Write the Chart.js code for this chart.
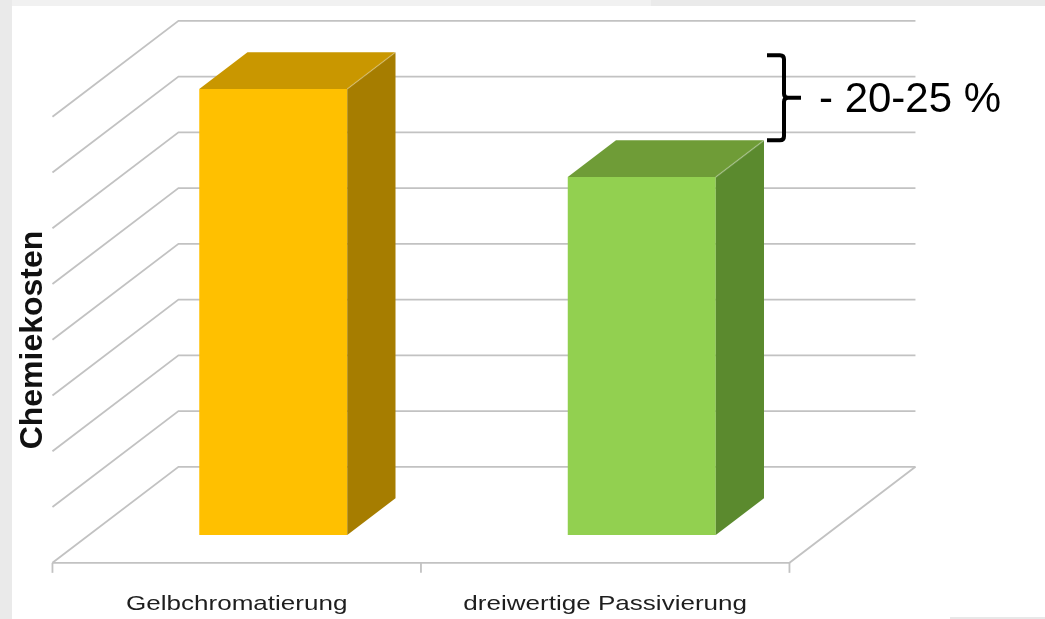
<!DOCTYPE html>
<html lang="de">
<head>
    <meta charset="UTF-8">
    <title>Chemiekosten</title>
    <script src="https://cdn.jsdelivr.net/npm/chart.js@4.4.1/dist/chart.umd.min.js"></script>
    <style>
        body {
            margin: 0;
            background: #ececec;
        }
        canvas {
            display: block;
        }
    </style>
</head>
<body>
    <canvas id="costChart" width="1045" height="619"></canvas>

    <script>
        // Data (no value labels, axis runs 0..8 with 8 gridlines)
        const categories = ['Gelbchromatierung', 'dreiwertige Passivierung'];
        const costValues = [8.0, 6.42];
        const gridValues = [0, 1, 2, 3, 4, 5, 6, 7, 8];
        const axisTitle = 'Chemiekosten';
        const noteText = '- 20-25 %';

        // colours: front, top, side
        const frontColors = ['#ffc000', '#92d050'];
        const topColors = ['#c99700', '#6f9c37'];
        const sideColors = ['#a67d00', '#5b8a2e'];

        // 3d projection: full floor depth vector, bar placed inside it
        const depth = { x: 126, y: -96 };
        const barFront = 0.29;   // fraction of depth in front of the bars
        const barDepth = 0.383;  // fraction of depth taken by a bar

        const fakeThreeD = {
            id: 'fakeThreeD',
            beforeDraw(chart) {
                const ctx = chart.ctx;
                ctx.save();
                ctx.fillStyle = '#eaeaea';
                ctx.fillRect(0, 0, chart.width, chart.height);
                ctx.fillStyle = '#f1f1f1';
                ctx.fillRect(12, 0, 639, 6);
                ctx.fillStyle = '#ffffff';
                ctx.fillRect(12, 6, chart.width - 12, chart.height - 6);
                ctx.fillStyle = '#e8e8e8';
                ctx.fillRect(950, 617, 95, 2);
                ctx.restore();
            },
            beforeDatasetsDraw(chart) {
                const ctx = chart.ctx;
                const area = chart.chartArea;
                const y = chart.scales.y;
                const backDx = depth.x * (1 - barFront), backDy = depth.y * (1 - barFront);
                const frontDx = -depth.x * barFront, frontDy = -depth.y * barFront;

                ctx.save();
                ctx.strokeStyle = '#c2c2c2';
                ctx.lineWidth = 1.8;
                // back wall + left wall
                gridValues.forEach(v => {
                    const py = y.getPixelForValue(v);
                    ctx.beginPath();
                    ctx.moveTo(area.left + frontDx, py + frontDy);
                    ctx.lineTo(area.left + backDx, py + backDy);
                    ctx.lineTo(area.right + backDx, py + backDy);
                    ctx.stroke();
                });
                // floor front and right edge
                const floorY = y.getPixelForValue(0) + frontDy;
                const fl = area.left + frontDx, fr = area.right + frontDx;
                ctx.beginPath();
                ctx.moveTo(fl, floorY);
                ctx.lineTo(fr, floorY);
                ctx.lineTo(fr + depth.x, floorY + depth.y);
                ctx.stroke();
                // category ticks
                const step = (fr - fl) / categories.length;
                for (let i = 0; i <= categories.length; i++) {
                    ctx.beginPath();
                    ctx.moveTo(fl + i * step, floorY);
                    ctx.lineTo(fl + i * step, floorY + 10);
                    ctx.stroke();
                }

                // category labels (slightly stretched like the source)
                ctx.fillStyle = '#1e1e1e';
                ctx.font = '21px "Liberation Sans", Arial, sans-serif';
                ctx.textAlign = 'center';
                ctx.textBaseline = 'alphabetic';
                categories.forEach((c, i) => {
                    const cx = fl + (i + 0.5) * step;
                    ctx.save();
                    ctx.translate(cx, floorY + 47);
                    ctx.scale(1.24, 1);
                    ctx.fillText(c, 0, 0);
                    ctx.restore();
                });

                // axis title
                ctx.save();
                ctx.fillStyle = '#111111';
                ctx.font = 'bold 32px "Liberation Sans", Arial, sans-serif';
                ctx.translate(42, (area.top + area.bottom) / 2 + 28);
                ctx.rotate(-Math.PI / 2);
                ctx.fillText(axisTitle, 0, 0);
                ctx.restore();
                ctx.restore();
            },
            afterDatasetsDraw(chart) {
                const ctx = chart.ctx;
                const area = chart.chartArea;
                const y = chart.scales.y;
                const dx = depth.x * barDepth, dy = depth.y * barDepth;
                const meta = chart.getDatasetMeta(0);

                ctx.save();
                meta.data.forEach((bar, i) => {
                    const p = bar.getProps(['x', 'y', 'base', 'width'], true);
                    const x0 = p.x - p.width / 2, x1 = p.x + p.width / 2;
                    const yt = p.y, yb = p.base;
                    // top face
                    ctx.fillStyle = topColors[i];
                    ctx.beginPath();
                    ctx.moveTo(x0, yt);
                    ctx.lineTo(x1, yt);
                    ctx.lineTo(x1 + dx, yt + dy);
                    ctx.lineTo(x0 + dx, yt + dy);
                    ctx.closePath();
                    ctx.fill();
                    // side face
                    ctx.fillStyle = sideColors[i];
                    ctx.beginPath();
                    ctx.moveTo(x1, yt);
                    ctx.lineTo(x1 + dx, yt + dy);
                    ctx.lineTo(x1 + dx, yb + dy);
                    ctx.lineTo(x1, yb);
                    ctx.closePath();
                    ctx.fill();
                    // light edge between top and side
                    ctx.strokeStyle = 'rgba(255,255,255,0.25)';
                    ctx.lineWidth = 1.5;
                    ctx.beginPath();
                    ctx.moveTo(x1, yt);
                    ctx.lineTo(x1 + dx, yt + dy);
                    ctx.stroke();
                });

                // brace from the back top of bar 1 to the back top of bar 2
                const yTop = y.getPixelForValue(costValues[0]) + dy + 3;
                const yBot = y.getPixelForValue(costValues[1]) + dy;
                const yMid = (yTop + yBot) / 2;
                const bx = area.right - 42;
                ctx.strokeStyle = '#000000';
                ctx.lineWidth = 4;
                ctx.lineJoin = 'round';
                ctx.lineCap = 'butt';
                ctx.beginPath();
                ctx.moveTo(bx - 17, yTop);
                ctx.lineTo(bx - 4, yTop);
                ctx.quadraticCurveTo(bx, yTop, bx, yTop + 4);
                ctx.lineTo(bx, yMid - 4);
                ctx.quadraticCurveTo(bx, yMid, bx + 4, yMid);
                ctx.lineTo(bx + 17, yMid);
                ctx.moveTo(bx + 4, yMid);
                ctx.quadraticCurveTo(bx, yMid, bx, yMid + 4);
                ctx.lineTo(bx, yBot - 4);
                ctx.quadraticCurveTo(bx, yBot, bx - 4, yBot);
                ctx.lineTo(bx - 17, yBot);
                ctx.stroke();

                ctx.fillStyle = '#000000';
                ctx.font = '42px "Liberation Sans", Arial, sans-serif';
                ctx.textAlign = 'left';
                ctx.textBaseline = 'alphabetic';
                ctx.fillText(noteText, bx + 35, yMid + 14);
                ctx.restore();
            }
        };

        const ctx = document.getElementById('costChart').getContext('2d');
        const costChart = new Chart(ctx, {
            type: 'bar',
            data: {
                labels: categories,
                datasets: [{
                    label: axisTitle,
                    data: costValues,
                    backgroundColor: frontColors,
                    borderWidth: 0,
                    categoryPercentage: 1,
                    barPercentage: 0.4016
                }]
            },
            options: {
                responsive: false,
                animation: false,
                layout: {
                    padding: { left: 89, right: 219, top: 89, bottom: 84 }
                },
                plugins: {
                    legend: { display: false },
                    tooltip: { enabled: false }
                },
                scales: {
                    x: { display: false },
                    y: { display: false, min: 0, max: 8 }
                }
            },
            plugins: [fakeThreeD]
        });
    </script>
</body>
</html>
